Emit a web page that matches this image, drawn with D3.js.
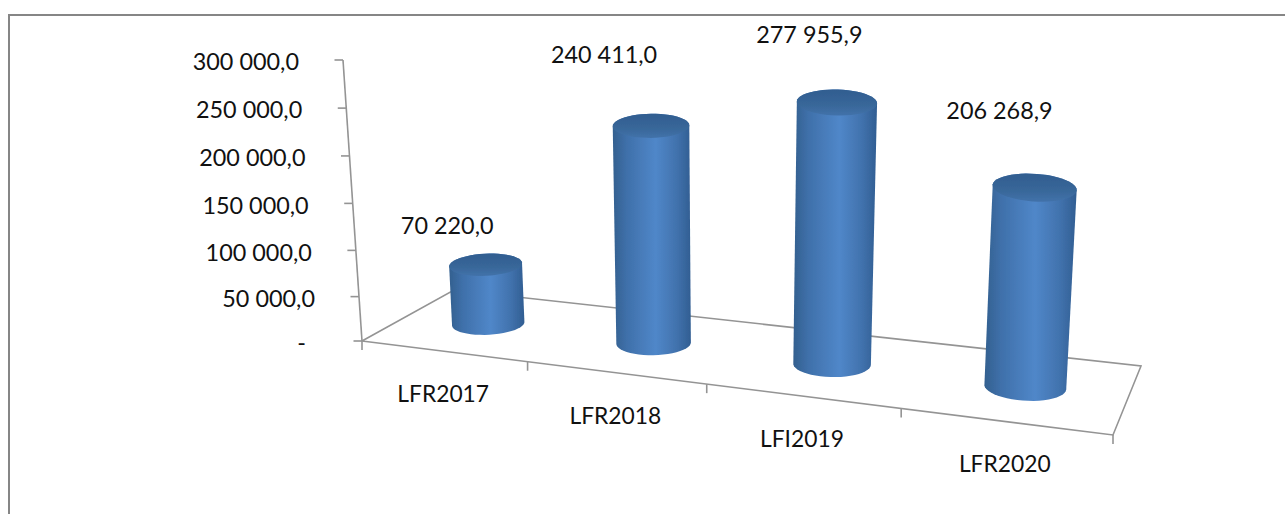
<!DOCTYPE html>
<html>
<head>
<meta charset="utf-8">
<script src="https://cdn.jsdelivr.net/npm/d3@7"></script>
<style>
html, body { margin: 0; padding: 0; background: #fff; }
svg { display: block; }
text { font-family: Lato, "Open Sans", sans-serif; font-size: 23.4px; fill: #111; }
.axis.x text { font-size: 22.8px; }
</style>
</head>
<body>
<div id="chart"></div>
<script>
var categories = ["LFR2017", "LFR2018", "LFI2019", "LFR2020"];
var values = [70220.0, 240411.0, 277955.9, 206268.9];
var valueLabels = ["70 220,0", "240 411,0", "277 955,9", "206 268,9"];
var yTicks = [0, 50000, 100000, 150000, 200000, 250000, 300000];
var yTickLabels = ["-", "50 000,0", "100 000,0", "150 000,0", "200 000,0", "250 000,0", "300 000,0"];

var width = 1285, height = 514;
var axisColor = "#949494";

var svg = d3.select("#chart").append("svg")
    .attr("width", width)
    .attr("height", height);

// floor of the excel 3d box: homography from [category position, depth] to the screen
var floorCorners = [
    [[0, 0], [362, 341]],
    [[4, 0], [1113, 435]],
    [[0, 1], [454, 290]],
    [[4, 1], [1141, 366]]
];

function solve(A, b){
    var n = b.length;
    var m = A.map(function(row, i){ return row.concat([b[i]]); });
    for (var i = 0; i < n; i++){
        var p = i;
        for (var r = i + 1; r < n; r++) if (Math.abs(m[r][i]) > Math.abs(m[p][i])) p = r;
        var t = m[i]; m[i] = m[p]; m[p] = t;
        for (var k = i + 1; k < n; k++){
            var f = m[k][i] / m[i][i];
            for (var c = i; c < n + 1; c++) m[k][c] -= f * m[i][c];
        }
    }
    var out = new Array(n);
    for (var i = n - 1; i >= 0; i--){
        var s = m[i][n];
        for (var c = i + 1; c < n; c++) s -= m[i][c] * out[c];
        out[i] = s / m[i][i];
    }
    return out;
}

var rows = [], rhs = [];
floorCorners.forEach(function(d){
    var u = d[0][0], v = d[0][1], sx = d[1][0], sy = d[1][1];
    rows.push([u, v, 1, 0, 0, 0, -sx * u, -sx * v]); rhs.push(sx);
    rows.push([0, 0, 0, u, v, 1, -sy * u, -sy * v]); rhs.push(sy);
});
var P = solve(rows, rhs);

function floor(u, v){
    var w = P[6] * u + P[7] * v + 1;
    return [(P[0] * u + P[1] * v + P[2]) / w, (P[3] * u + P[4] * v + P[5]) / w];
}

// screen offset of height h (0 to 1) for a column standing at u, v.
// columns grow toward the right and front and lean away from the middle
function lift(u, v, h){
    return [(-19 + 8.5 * u + 6 * v) * h, -(281 + 10 * u - 46 * v) * h];
}

function project(u, v, h){
    var f = floor(u, v), l = lift(u, v, h);
    return [f[0] + l[0], f[1] + l[1]];
}

var x = d3.scaleBand().domain(categories).range([0, 4]);
// exponent: the ticks get slightly further apart going up the axis
var y = d3.scalePow().exponent(1.03).domain([0, 300000]).range([0, 1]);

var line = d3.line();

// frame, only the top and left edges are in the picture
svg.append("path")
    .attr("d", line([[9, height], [9, 15], [width, 15]]))
    .attr("fill", "none")
    .attr("stroke", "#868686")
    .attr("stroke-width", 2);

// floor
svg.append("path")
    .attr("d", line([floor(0, 0), floor(0, 1), floor(4, 1), floor(4, 0), floor(0, 0)]))
    .attr("fill", "none")
    .attr("stroke", axisColor)
    .attr("stroke-width", 1.6);

// y axis
svg.append("path")
    .attr("d", line([project(0, 0, 0), project(0, 0, 1)]))
    .attr("fill", "none")
    .attr("stroke", axisColor)
    .attr("stroke-width", 1.6);

var yAxis = svg.append("g").attr("class", "axis y");

yTicks.forEach(function(d, i){
    var p = project(0, 0, y(d));
    yAxis.append("line")
        .attr("x1", p[0] - 8.5).attr("x2", p[0])
        .attr("y1", p[1]).attr("y2", p[1])
        .attr("stroke", axisColor)
        .attr("stroke-width", 1.6);
    yAxis.append("text")
        .attr("x", p[0] - (d === 0 ? 56 : 44))
        .attr("y", p[1] + 2)
        .attr("dy", "0.35em")
        .attr("text-anchor", "end")
        .text(yTickLabels[i]);
});

// x axis
var xAxis = svg.append("g").attr("class", "axis x");

d3.range(0, 5).forEach(function(u){
    var p = floor(u, 0);
    xAxis.append("line")
        .attr("x1", p[0]).attr("x2", p[0])
        .attr("y1", p[1]).attr("y2", p[1] + 9)
        .attr("stroke", axisColor)
        .attr("stroke-width", 1.6);
});

categories.forEach(function(d){
    var p = floor(x(d) + x.bandwidth() / 2, 0);
    xAxis.append("text")
        .attr("x", p[0])
        .attr("y", p[1] + 43)
        .attr("dy", "0.35em")
        .attr("text-anchor", "middle")
        .text(d);
});

// gradients
var defs = svg.append("defs");

var body = defs.append("linearGradient").attr("id", "cyl-body");
[[0, "#33608f"], [0.18, "#3f70aa"], [0.55, "#5087c9"], [0.82, "#4172ad"], [1, "#315e92"]].forEach(function(s){
    body.append("stop").attr("offset", s[0]).attr("stop-color", s[1]);
});

var cap = defs.append("linearGradient").attr("id", "cyl-cap")
    .attr("x1", 0).attr("x2", 0).attr("y1", 0).attr("y2", 1);
[[0, "#315d90"], [0.6, "#386799"], [1, "#4272aa"]].forEach(function(s){
    cap.append("stop").attr("offset", s[0]).attr("stop-color", s[1]);
});

defs.append("filter").attr("id", "soft")
    .append("feGaussianBlur").attr("stdDeviation", 0.6);

// cylinders
var radiusU = 0.2, radiusV = 0.2, depth = 0.5;

function ellipse(cu, h){
    var grow = 1 + 0.04 * h;
    var l = lift(cu, depth, h);
    return d3.range(0, 48).map(function(i){
        var t = i / 48 * 2 * Math.PI;
        var f = floor(cu + grow * radiusU * Math.cos(t), depth + radiusV * Math.sin(t));
        return [f[0] + l[0], f[1] + l[1]];
    });
}

var labelShift = [[-38.5, -39], [-47, -71], [-27.5, -67], [-35, -77]];

categories.forEach(function(d, i){
    var cu = x(d) + x.bandwidth() / 2;
    var h = y(values[i]);
    var top = ellipse(cu, h), bottom = ellipse(cu, 0);

    var g = svg.append("g").attr("filter", "url(#soft)");

    g.append("path")
        .attr("d", "M" + d3.polygonHull(top.concat(bottom)).join("L") + "Z")
        .attr("fill", "url(#cyl-body)");

    g.append("path")
        .attr("d", "M" + top.join("L") + "Z")
        .attr("fill", "url(#cyl-cap)");

    var c = project(cu, depth, h);
    svg.append("text")
        .attr("x", c[0] + labelShift[i][0])
        .attr("y", c[1] + labelShift[i][1])
        .attr("dy", "0.35em")
        .attr("text-anchor", "middle")
        .text(valueLabels[i]);
});
</script>
</body>
</html>
